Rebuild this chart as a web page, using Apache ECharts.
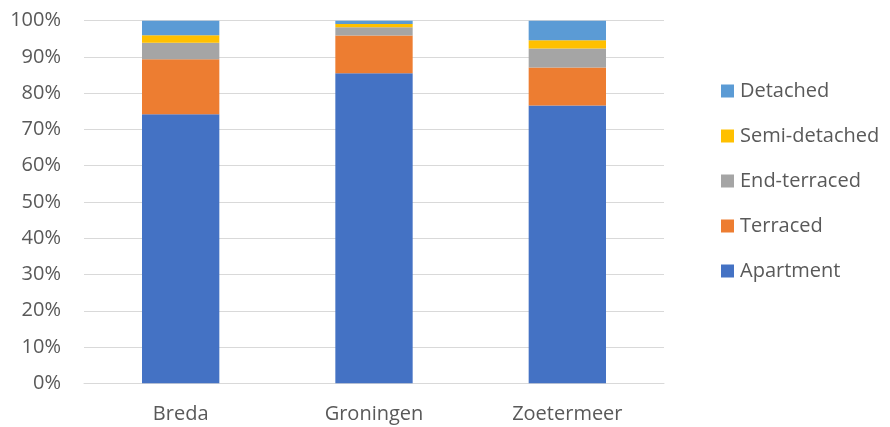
<!DOCTYPE html>
<html>
<head>
<meta charset="utf-8">
<script src="https://cdn.jsdelivr.net/npm/echarts@6/dist/echarts.min.js"></script>
<style>
html, body { margin: 0; padding: 0; background: #fff; }
#chart { width: 890px; height: 427px; }
</style>
</head>
<body>
<div id="chart"></div>
<script>
var cities = ['Breda', 'Groningen', 'Zoetermeer'];
var apartment = [74.2, 85.5, 76.6];
var terraced = [15.2, 10.4, 10.5];
var endTerraced = [4.5, 2.3, 5.2];
var semiDetached = [2.1, 0.9, 2.3];
var detached = [4.0, 0.9, 5.4];

var font = '"Open Sans", "Liberation Sans", sans-serif';

function bar(name, data, color) {
	return {
		name: name,
		type: 'bar',
		stack: 'total',
		data: data,
		barCategoryGap: '60%',
		itemStyle: { color: color }
	};
}

var chart = echarts.init(document.getElementById('chart'));
chart.setOption({
	animation: false,
	textStyle: { fontFamily: font },
	grid: { left: 84, right: 226, top: 20.7, bottom: 43.7 },
	legend: {
		orient: 'vertical',
		left: 716,
		top: 76,
		padding: 5,
		itemWidth: 13,
		itemHeight: 13,
		itemGap: 25,
		icon: 'rect',
		textStyle: { fontSize: 20, color: '#595959', fontFamily: font, padding: [0, 0, 0, 1] },
		data: ['Detached', 'Semi-detached', 'End-terraced', 'Terraced', 'Apartment']
	},
	xAxis: {
		type: 'category',
		data: cities,
		axisLine: { lineStyle: { color: '#d9d9d9' } },
		axisTick: { show: false },
		axisLabel: { fontSize: 20, color: '#595959', margin: 21 }
	},
	yAxis: {
		type: 'value',
		min: 0,
		max: 100,
		interval: 10,
		axisLine: { show: false },
		axisTick: { show: false },
		splitLine: { lineStyle: { color: '#d9d9d9' } },
		axisLabel: { fontSize: 20, color: '#595959', margin: 23, formatter: '{value}%' }
	},
	series: [
		bar('Apartment', apartment, '#4472C4'),
		bar('Terraced', terraced, '#ED7D31'),
		bar('End-terraced', endTerraced, '#A5A5A5'),
		bar('Semi-detached', semiDetached, '#FFC000'),
		bar('Detached', detached, '#5B9BD5')
	]
});
</script>
</body>
</html>
